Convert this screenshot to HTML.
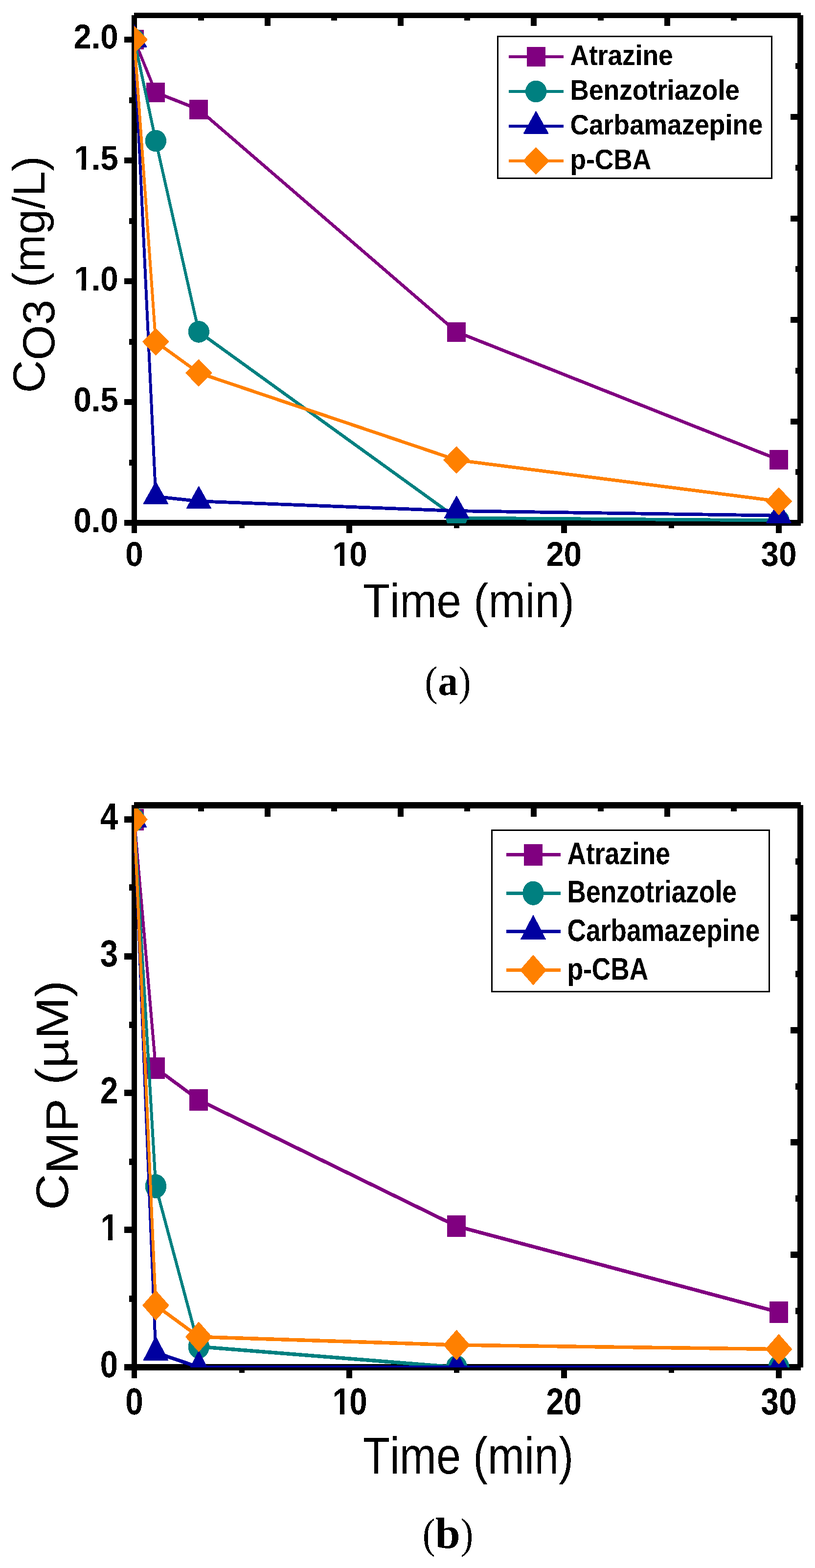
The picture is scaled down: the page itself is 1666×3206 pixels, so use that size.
<!DOCTYPE html>
<html lang="en">
<head>
<meta charset="utf-8">
<title>Ozone and micropollutant concentration versus time</title>
<style>
html,body{margin:0;padding:0;background:#fff;}
body{width:1666px;height:3206px;overflow:hidden;}
svg{display:block;}
text{fill:#000;font-kerning:none;font-variant-ligatures:none;text-rendering:geometricPrecision;}
</style>
</head>
<body>
<svg width="1666" height="3206" viewBox="0 0 1666 3206">
<defs>
<filter id="px" filterUnits="userSpaceOnUse" x="0" y="0" width="1666" height="3206" color-interpolation-filters="sRGB">
<feComponentTransfer><feFuncA type="discrete" tableValues="0 1"/></feComponentTransfer>
</filter>
</defs>
<rect width="1666" height="3206" fill="#fff"/>
<g shape-rendering="crispEdges">
<rect x="269.00" y="31.00" width="11.00" height="1059.00" fill="#000"/>
<rect x="254.00" y="1063.00" width="1383.00" height="12.00" fill="#000"/>
<rect x="264.00" y="939.50" width="6.00" height="12.00" fill="#000"/>
<rect x="254.00" y="816.00" width="16.00" height="12.00" fill="#000"/>
<rect x="264.00" y="692.50" width="6.00" height="12.00" fill="#000"/>
<rect x="254.00" y="569.00" width="16.00" height="12.00" fill="#000"/>
<rect x="264.00" y="445.50" width="6.00" height="12.00" fill="#000"/>
<rect x="254.00" y="322.00" width="16.00" height="12.00" fill="#000"/>
<rect x="264.00" y="198.50" width="6.00" height="12.00" fill="#000"/>
<rect x="254.00" y="75.00" width="16.00" height="12.00" fill="#000"/>
<rect x="489.00" y="1074.00" width="11.00" height="6.00" fill="#000"/>
<rect x="707.67" y="1074.00" width="12.00" height="16.00" fill="#000"/>
<rect x="928.00" y="1074.00" width="11.00" height="6.00" fill="#000"/>
<rect x="1146.84" y="1074.00" width="12.00" height="16.00" fill="#000"/>
<rect x="1367.00" y="1074.00" width="11.00" height="6.00" fill="#000"/>
<rect x="1586.01" y="1074.00" width="12.00" height="16.00" fill="#000"/>
</g>
<clipPath id="clipa"><rect x="274" y="31" width="1363" height="1039"/></clipPath>
<g clip-path="url(#clipa)" shape-rendering="crispEdges">
<g transform="scale(1 1.16)"><polyline points="274.50,69.828 318.40,163.017 406.30,192.845 933.30,585.000 1592.00,810.345" fill="none" stroke="#800080" stroke-width="5.9" stroke-linejoin="round" stroke-linecap="butt"/></g>
<rect x="255.50" y="61.00" width="38.00" height="40.00" fill="#800080"/>
<rect x="299.40" y="169.10" width="38.00" height="40.00" fill="#800080"/>
<rect x="387.30" y="203.70" width="38.00" height="40.00" fill="#800080"/>
<rect x="914.30" y="658.60" width="38.00" height="40.00" fill="#800080"/>
<rect x="1573.00" y="920.00" width="38.00" height="40.00" fill="#800080"/>
<g transform="scale(1 1.16)"><polyline points="274.50,69.828 318.40,248.276 406.30,584.828 933.30,912.931 1592.00,917.241" fill="none" stroke="#008080" stroke-width="5.9" stroke-linejoin="round" stroke-linecap="butt"/></g>
<ellipse cx="274.50" cy="81.00" rx="21.70" ry="22.30" fill="#008080"/>
<ellipse cx="318.40" cy="288.00" rx="21.70" ry="22.30" fill="#008080"/>
<ellipse cx="406.30" cy="678.40" rx="21.70" ry="22.30" fill="#008080"/>
<ellipse cx="933.30" cy="1059.00" rx="21.70" ry="22.30" fill="#008080"/>
<ellipse cx="1592.00" cy="1064.00" rx="21.70" ry="22.30" fill="#008080"/>
<g transform="scale(1 1.16)"><polyline points="274.50,69.828 318.40,875.259 406.30,883.448 933.30,900.517 1592.00,908.793" fill="none" stroke="#0000A0" stroke-width="5.9" stroke-linejoin="round" stroke-linecap="butt"/></g>
<path d="M274.50 51.40 L299.20 95.60 L249.80 95.60 Z" fill="#0000A0" stroke="#0000A0" stroke-width="2" stroke-linejoin="round"/>
<path d="M318.40 985.70 L343.10 1029.90 L293.70 1029.90 Z" fill="#0000A0" stroke="#0000A0" stroke-width="2" stroke-linejoin="round"/>
<path d="M406.30 995.20 L431.00 1039.40 L381.60 1039.40 Z" fill="#0000A0" stroke="#0000A0" stroke-width="2" stroke-linejoin="round"/>
<path d="M933.30 1015.00 L958.00 1059.20 L908.60 1059.20 Z" fill="#0000A0" stroke="#0000A0" stroke-width="2" stroke-linejoin="round"/>
<path d="M1592.00 1024.60 L1616.70 1068.80 L1567.30 1068.80 Z" fill="#0000A0" stroke="#0000A0" stroke-width="2" stroke-linejoin="round"/>
<g transform="scale(1 1.16)"><polyline points="274.50,69.828 318.40,602.414 406.30,657.328 933.30,810.776 1592.00,883.534" fill="none" stroke="#FF8000" stroke-width="5.9" stroke-linejoin="round" stroke-linecap="butt"/></g>
<path d="M274.50 54.20 L300.60 81.00 L274.50 107.80 L248.40 81.00 Z" fill="#FF8000" stroke="#FF8000" stroke-width="2" stroke-linejoin="round"/>
<path d="M318.40 672.00 L344.50 698.80 L318.40 725.60 L292.30 698.80 Z" fill="#FF8000" stroke="#FF8000" stroke-width="2" stroke-linejoin="round"/>
<path d="M406.30 735.70 L432.40 762.50 L406.30 789.30 L380.20 762.50 Z" fill="#FF8000" stroke="#FF8000" stroke-width="2" stroke-linejoin="round"/>
<path d="M933.30 913.70 L959.40 940.50 L933.30 967.30 L907.20 940.50 Z" fill="#FF8000" stroke="#FF8000" stroke-width="2" stroke-linejoin="round"/>
<path d="M1592.00 998.10 L1618.10 1024.90 L1592.00 1051.70 L1565.90 1024.90 Z" fill="#FF8000" stroke="#FF8000" stroke-width="2" stroke-linejoin="round"/>
</g>
<g shape-rendering="crispEdges">
<rect x="1630.00" y="31.00" width="12.00" height="1039.00" fill="#000"/>
<rect x="274.00" y="26.00" width="1363.00" height="11.00" fill="#000"/>
<rect x="404.65" y="36.00" width="12.00" height="6.00" fill="#000"/>
<rect x="540.80" y="36.00" width="12.00" height="17.00" fill="#000"/>
<rect x="676.95" y="36.00" width="12.00" height="6.00" fill="#000"/>
<rect x="813.10" y="36.00" width="12.00" height="17.00" fill="#000"/>
<rect x="949.25" y="36.00" width="12.00" height="6.00" fill="#000"/>
<rect x="1085.40" y="36.00" width="12.00" height="17.00" fill="#000"/>
<rect x="1221.55" y="36.00" width="12.00" height="6.00" fill="#000"/>
<rect x="1357.70" y="36.00" width="12.00" height="17.00" fill="#000"/>
<rect x="1493.85" y="36.00" width="12.00" height="6.00" fill="#000"/>
<rect x="1626.00" y="129.25" width="5.00" height="12.00" fill="#000"/>
<rect x="1616.00" y="233.00" width="15.00" height="12.00" fill="#000"/>
<rect x="1626.00" y="336.75" width="5.00" height="12.00" fill="#000"/>
<rect x="1616.00" y="440.50" width="15.00" height="12.00" fill="#000"/>
<rect x="1626.00" y="544.25" width="5.00" height="12.00" fill="#000"/>
<rect x="1616.00" y="648.00" width="15.00" height="12.00" fill="#000"/>
<rect x="1626.00" y="751.75" width="5.00" height="12.00" fill="#000"/>
<rect x="1616.00" y="855.50" width="15.00" height="12.00" fill="#000"/>
<rect x="1626.00" y="959.25" width="5.00" height="12.00" fill="#000"/>
</g>
<g shape-rendering="crispEdges">
<rect x="1017.50" y="74.50" width="560.00" height="290.00" fill="#fff" stroke="#000" stroke-width="3"/>
<rect x="1040.00" y="113.00" width="112.40" height="6.00" fill="#800080"/>
<rect x="1076.70" y="96.00" width="38.00" height="40.00" fill="#800080"/>
<rect x="1040.00" y="184.00" width="112.40" height="6.00" fill="#008080"/>
<ellipse cx="1095.70" cy="187.00" rx="21.70" ry="22.30" fill="#008080"/>
<rect x="1040.00" y="255.00" width="112.40" height="6.00" fill="#0000A0"/>
<path d="M1095.70 228.40 L1120.40 272.60 L1071.00 272.60 Z" fill="#0000A0" stroke="#0000A0" stroke-width="2" stroke-linejoin="round"/>
<rect x="1040.00" y="326.00" width="112.40" height="6.00" fill="#FF8000"/>
<path d="M1095.70 302.20 L1121.80 329.00 L1095.70 355.80 L1069.60 329.00 Z" fill="#FF8000" stroke="#FF8000" stroke-width="2" stroke-linejoin="round"/>
</g>
<g filter="url(#px)">
<text transform="translate(1165.50 133.20) scale(0.9158 1.0000)" font-family='"Liberation Sans", Arial, sans-serif' font-weight="bold" font-size="58.20" text-anchor="start">Atrazine</text>
<text transform="translate(1165.50 204.20) scale(0.9158 1.0000)" font-family='"Liberation Sans", Arial, sans-serif' font-weight="bold" font-size="58.20" text-anchor="start">Benzotriazole</text>
<text transform="translate(1165.50 275.20) scale(0.9158 1.0000)" font-family='"Liberation Sans", Arial, sans-serif' font-weight="bold" font-size="58.20" text-anchor="start">Carbamazepine</text>
<text transform="translate(1165.50 346.20) scale(0.9158 1.0000)" font-family='"Liberation Sans", Arial, sans-serif' font-weight="bold" font-size="58.20" text-anchor="start">p-CBA</text>
<text transform="translate(241.60 98.80) scale(0.9304 1.0000)" font-family='"Liberation Sans", Arial, sans-serif' font-weight="bold" font-size="70.40" text-anchor="end">2.0</text>
<text transform="translate(150.54 346.60) scale(0.9304 1.0000)" font-family='"Liberation Sans", Arial, sans-serif' font-weight="bold" font-size="70.40" text-anchor="start"><tspan x="1.07">1</tspan><tspan x="39.16">.5</tspan></text>
<g fill="#fff"><rect x="154.16" y="338.29" width="12.48" height="9.36" fill="#fff"/><rect x="175.90" y="338.29" width="11.33" height="9.36" fill="#fff"/></g>
<text transform="translate(150.54 593.60) scale(0.9304 1.0000)" font-family='"Liberation Sans", Arial, sans-serif' font-weight="bold" font-size="70.40" text-anchor="start"><tspan x="1.07">1</tspan><tspan x="39.16">.0</tspan></text>
<g fill="#fff"><rect x="154.16" y="585.29" width="12.48" height="9.36" fill="#fff"/><rect x="175.90" y="585.29" width="11.33" height="9.36" fill="#fff"/></g>
<text transform="translate(241.60 840.60) scale(0.9304 1.0000)" font-family='"Liberation Sans", Arial, sans-serif' font-weight="bold" font-size="70.40" text-anchor="end">0.5</text>
<text transform="translate(241.60 1087.60) scale(0.9304 1.0000)" font-family='"Liberation Sans", Arial, sans-serif' font-weight="bold" font-size="70.40" text-anchor="end">0.0</text>
<text transform="translate(274.50 1157.20) scale(0.9304 1.0000)" font-family='"Liberation Sans", Arial, sans-serif' font-weight="bold" font-size="70.40" text-anchor="middle">0</text>
<text transform="translate(677.77 1157.20) scale(0.9304 1.0000)" font-family='"Liberation Sans", Arial, sans-serif' font-weight="bold" font-size="70.40" text-anchor="start"><tspan x="2.15">1</tspan><tspan x="39.16">0</tspan></text>
<g fill="#fff"><rect x="682.39" y="1148.89" width="12.48" height="9.36" fill="#fff"/><rect x="704.13" y="1148.89" width="11.33" height="9.36" fill="#fff"/></g>
<text transform="translate(1152.80 1157.20) scale(0.9304 1.0000)" font-family='"Liberation Sans", Arial, sans-serif' font-weight="bold" font-size="70.40" text-anchor="middle">20</text>
<text transform="translate(1592.00 1157.20) scale(0.9304 1.0000)" font-family='"Liberation Sans", Arial, sans-serif' font-weight="bold" font-size="70.40" text-anchor="middle">30</text>
<text transform="translate(741.74 1262.09) scale(0.9279 1.0000)" font-family='"Liberation Sans", Arial, sans-serif' font-weight="normal" font-size="97.57" text-anchor="start">Time (min)</text>
<text transform="translate(91.20 803.60) rotate(-90) scale(1.0109 1.0000)" font-family='"Liberation Sans", Arial, sans-serif' font-weight="normal" font-size="92.00" text-anchor="start" xml:space="preserve">C</text>
<text transform="translate(110.60 736.84) rotate(-90) scale(1.0109 1.0000)" font-family='"Liberation Sans", Arial, sans-serif' font-weight="normal" font-size="92.00" text-anchor="start" xml:space="preserve">O3</text>
<text transform="translate(91.20 613.47) rotate(-90) scale(1.0109 1.0000)" font-family='"Liberation Sans", Arial, sans-serif' font-weight="normal" font-size="92.00" text-anchor="start" xml:space="preserve"> (mg/L)</text>
<text transform="translate(868.15 1421.64) scale(0.9166 1.0000)" font-family='"Liberation Serif", "Times New Roman", serif' font-weight="normal" font-size="86.00" text-anchor="start">(</text>
<text transform="translate(895.54 1421.44) scale(0.9551 1.0000)" font-family='"Liberation Serif", "Times New Roman", serif' font-weight="bold" font-size="85.83" text-anchor="start">a</text>
<text transform="translate(937.23 1421.64) scale(0.8810 1.0000)" font-family='"Liberation Serif", "Times New Roman", serif' font-weight="normal" font-size="86.00" text-anchor="start">)</text>
</g>
<g shape-rendering="crispEdges">
<rect x="269.00" y="1646.00" width="11.00" height="1172.00" fill="#000"/>
<rect x="254.00" y="2789.00" width="1383.00" height="13.00" fill="#000"/>
<rect x="264.00" y="2649.00" width="6.00" height="13.00" fill="#000"/>
<rect x="254.00" y="2508.00" width="16.00" height="13.00" fill="#000"/>
<rect x="264.00" y="2369.00" width="6.00" height="13.00" fill="#000"/>
<rect x="254.00" y="2228.00" width="16.00" height="13.00" fill="#000"/>
<rect x="264.00" y="2088.50" width="6.00" height="13.00" fill="#000"/>
<rect x="254.00" y="1949.00" width="16.00" height="13.00" fill="#000"/>
<rect x="264.00" y="1808.00" width="6.00" height="13.00" fill="#000"/>
<rect x="254.00" y="1669.00" width="16.00" height="13.00" fill="#000"/>
<rect x="489.00" y="2801.00" width="11.00" height="6.00" fill="#000"/>
<rect x="707.67" y="2801.00" width="12.00" height="17.00" fill="#000"/>
<rect x="928.00" y="2801.00" width="11.00" height="6.00" fill="#000"/>
<rect x="1146.84" y="2801.00" width="12.00" height="17.00" fill="#000"/>
<rect x="1367.00" y="2801.00" width="11.00" height="6.00" fill="#000"/>
<rect x="1586.01" y="2801.00" width="12.00" height="17.00" fill="#000"/>
</g>
<clipPath id="clipb"><rect x="274" y="1646" width="1363" height="1150"/></clipPath>
<g clip-path="url(#clipb)" shape-rendering="crispEdges">
<g transform="scale(1 1.25)"><polyline points="274.50,1340.400 318.40,1747.200 406.30,1799.200 933.30,2005.680 1592.00,2146.400" fill="none" stroke="#800080" stroke-width="6.0" stroke-linejoin="round" stroke-linecap="butt"/></g>
<rect x="255.50" y="1653.50" width="38.00" height="44.00" fill="#800080"/>
<rect x="299.40" y="2162.00" width="38.00" height="44.00" fill="#800080"/>
<rect x="387.30" y="2227.00" width="38.00" height="44.00" fill="#800080"/>
<rect x="914.30" y="2485.10" width="38.00" height="44.00" fill="#800080"/>
<rect x="1573.00" y="2661.00" width="38.00" height="44.00" fill="#800080"/>
<g transform="scale(1 1.25)"><polyline points="274.50,1340.400 318.40,1940.320 406.30,2202.720 933.30,2236.400 1592.00,2236.400" fill="none" stroke="#008080" stroke-width="6.0" stroke-linejoin="round" stroke-linecap="butt"/></g>
<ellipse cx="274.50" cy="1675.50" rx="21.70" ry="24.60" fill="#008080"/>
<ellipse cx="318.40" cy="2425.40" rx="21.70" ry="24.60" fill="#008080"/>
<ellipse cx="406.30" cy="2753.40" rx="21.70" ry="24.60" fill="#008080"/>
<ellipse cx="933.30" cy="2795.50" rx="21.70" ry="24.60" fill="#008080"/>
<ellipse cx="1592.00" cy="2795.50" rx="21.70" ry="24.60" fill="#008080"/>
<g transform="scale(1 1.25)"><polyline points="274.50,1340.400 318.40,2212.400 406.30,2236.400 933.30,2236.400 1592.00,2236.400" fill="none" stroke="#0000A0" stroke-width="6.0" stroke-linejoin="round" stroke-linecap="butt"/></g>
<path d="M274.50 1643.20 L299.20 1691.20 L249.80 1691.20 Z" fill="#0000A0" stroke="#0000A0" stroke-width="2" stroke-linejoin="round"/>
<path d="M318.40 2733.20 L343.10 2781.20 L293.70 2781.20 Z" fill="#0000A0" stroke="#0000A0" stroke-width="2" stroke-linejoin="round"/>
<path d="M406.30 2763.20 L431.00 2811.20 L381.60 2811.20 Z" fill="#0000A0" stroke="#0000A0" stroke-width="2" stroke-linejoin="round"/>
<path d="M933.30 2763.20 L958.00 2811.20 L908.60 2811.20 Z" fill="#0000A0" stroke="#0000A0" stroke-width="2" stroke-linejoin="round"/>
<path d="M1592.00 2763.20 L1616.70 2811.20 L1567.30 2811.20 Z" fill="#0000A0" stroke="#0000A0" stroke-width="2" stroke-linejoin="round"/>
<g transform="scale(1 1.25)"><polyline points="274.50,1340.400 318.40,2135.120 406.30,2186.720 933.30,2200.080 1592.00,2206.880" fill="none" stroke="#FF8000" stroke-width="6.0" stroke-linejoin="round" stroke-linecap="butt"/></g>
<path d="M274.50 1645.90 L300.60 1675.50 L274.50 1705.10 L248.40 1675.50 Z" fill="#FF8000" stroke="#FF8000" stroke-width="2" stroke-linejoin="round"/>
<path d="M318.40 2639.30 L344.50 2668.90 L318.40 2698.50 L292.30 2668.90 Z" fill="#FF8000" stroke="#FF8000" stroke-width="2" stroke-linejoin="round"/>
<path d="M406.30 2703.80 L432.40 2733.40 L406.30 2763.00 L380.20 2733.40 Z" fill="#FF8000" stroke="#FF8000" stroke-width="2" stroke-linejoin="round"/>
<path d="M933.30 2720.50 L959.40 2750.10 L933.30 2779.70 L907.20 2750.10 Z" fill="#FF8000" stroke="#FF8000" stroke-width="2" stroke-linejoin="round"/>
<path d="M1592.00 2729.00 L1618.10 2758.60 L1592.00 2788.20 L1565.90 2758.60 Z" fill="#FF8000" stroke="#FF8000" stroke-width="2" stroke-linejoin="round"/>
</g>
<g shape-rendering="crispEdges">
<rect x="1630.00" y="1646.00" width="12.00" height="1150.00" fill="#000"/>
<rect x="274.00" y="1640.00" width="1363.00" height="13.00" fill="#000"/>
<rect x="404.65" y="1652.00" width="12.00" height="7.00" fill="#000"/>
<rect x="540.80" y="1652.00" width="12.00" height="18.00" fill="#000"/>
<rect x="676.95" y="1652.00" width="12.00" height="7.00" fill="#000"/>
<rect x="813.10" y="1652.00" width="12.00" height="18.00" fill="#000"/>
<rect x="949.25" y="1652.00" width="12.00" height="7.00" fill="#000"/>
<rect x="1085.40" y="1652.00" width="12.00" height="18.00" fill="#000"/>
<rect x="1221.55" y="1652.00" width="12.00" height="7.00" fill="#000"/>
<rect x="1357.70" y="1652.00" width="12.00" height="18.00" fill="#000"/>
<rect x="1493.85" y="1652.00" width="12.00" height="7.00" fill="#000"/>
<rect x="1626.00" y="1754.90" width="5.00" height="13.00" fill="#000"/>
<rect x="1616.00" y="1869.80" width="15.00" height="13.00" fill="#000"/>
<rect x="1626.00" y="1984.70" width="5.00" height="13.00" fill="#000"/>
<rect x="1616.00" y="2099.60" width="15.00" height="13.00" fill="#000"/>
<rect x="1626.00" y="2214.50" width="5.00" height="13.00" fill="#000"/>
<rect x="1616.00" y="2329.40" width="15.00" height="13.00" fill="#000"/>
<rect x="1626.00" y="2444.30" width="5.00" height="13.00" fill="#000"/>
<rect x="1616.00" y="2559.20" width="15.00" height="13.00" fill="#000"/>
<rect x="1626.00" y="2674.10" width="5.00" height="13.00" fill="#000"/>
</g>
<g shape-rendering="crispEdges">
<rect x="1005.50" y="1697.50" width="567.00" height="330.00" fill="#fff" stroke="#000" stroke-width="3"/>
<rect x="1034.80" y="1743.90" width="111.40" height="7.40" fill="#800080"/>
<rect x="1071.00" y="1725.60" width="38.00" height="44.00" fill="#800080"/>
<rect x="1034.80" y="1822.50" width="111.40" height="7.40" fill="#008080"/>
<ellipse cx="1090.00" cy="1826.20" rx="21.70" ry="24.60" fill="#008080"/>
<rect x="1034.80" y="1900.70" width="111.40" height="7.40" fill="#0000A0"/>
<path d="M1090.00 1872.10 L1114.70 1920.10 L1065.30 1920.10 Z" fill="#0000A0" stroke="#0000A0" stroke-width="2" stroke-linejoin="round"/>
<rect x="1034.80" y="1979.70" width="111.40" height="7.40" fill="#FF8000"/>
<path d="M1090.00 1953.80 L1116.10 1983.40 L1090.00 2013.00 L1063.90 1983.40 Z" fill="#FF8000" stroke="#FF8000" stroke-width="2" stroke-linejoin="round"/>
</g>
<g filter="url(#px)">
<text transform="translate(1159.50 1766.80) scale(0.8381 1.0000)" font-family='"Liberation Sans", Arial, sans-serif' font-weight="bold" font-size="63.60" text-anchor="start">Atrazine</text>
<text transform="translate(1159.50 1845.40) scale(0.8381 1.0000)" font-family='"Liberation Sans", Arial, sans-serif' font-weight="bold" font-size="63.60" text-anchor="start">Benzotriazole</text>
<text transform="translate(1159.50 1923.60) scale(0.8381 1.0000)" font-family='"Liberation Sans", Arial, sans-serif' font-weight="bold" font-size="63.60" text-anchor="start">Carbamazepine</text>
<text transform="translate(1159.50 2002.60) scale(0.8381 1.0000)" font-family='"Liberation Sans", Arial, sans-serif' font-weight="bold" font-size="63.60" text-anchor="start">p-CBA</text>
<text transform="translate(241.20 1695.90) scale(0.8506 1.0000)" font-family='"Liberation Sans", Arial, sans-serif' font-weight="bold" font-size="77.00" text-anchor="end">4</text>
<text transform="translate(241.20 1975.90) scale(0.8506 1.0000)" font-family='"Liberation Sans", Arial, sans-serif' font-weight="bold" font-size="77.00" text-anchor="end">3</text>
<text transform="translate(241.20 2255.90) scale(0.8506 1.0000)" font-family='"Liberation Sans", Arial, sans-serif' font-weight="bold" font-size="77.00" text-anchor="end">2</text>
<text transform="translate(204.77 2535.90) scale(0.8506 1.0000)" font-family='"Liberation Sans", Arial, sans-serif' font-weight="bold" font-size="77.00" text-anchor="start"><tspan x="1.18">1</tspan></text>
<g fill="#fff"><rect x="208.39" y="2526.81" width="12.48" height="10.24" fill="#fff"/><rect x="230.13" y="2526.81" width="11.33" height="10.24" fill="#fff"/></g>
<text transform="translate(241.20 2815.90) scale(0.8506 1.0000)" font-family='"Liberation Sans", Arial, sans-serif' font-weight="bold" font-size="77.00" text-anchor="end">0</text>
<text transform="translate(274.50 2892.00) scale(0.8506 1.0000)" font-family='"Liberation Sans", Arial, sans-serif' font-weight="bold" font-size="77.00" text-anchor="middle">0</text>
<text transform="translate(677.77 2892.00) scale(0.8506 1.0000)" font-family='"Liberation Sans", Arial, sans-serif' font-weight="bold" font-size="77.00" text-anchor="start"><tspan x="2.35">1</tspan><tspan x="42.83">0</tspan></text>
<g fill="#fff"><rect x="682.39" y="2882.91" width="12.48" height="10.24" fill="#fff"/><rect x="704.13" y="2882.91" width="11.33" height="10.24" fill="#fff"/></g>
<text transform="translate(1152.80 2892.00) scale(0.8506 1.0000)" font-family='"Liberation Sans", Arial, sans-serif' font-weight="bold" font-size="77.00" text-anchor="middle">20</text>
<text transform="translate(1592.00 2892.00) scale(0.8506 1.0000)" font-family='"Liberation Sans", Arial, sans-serif' font-weight="bold" font-size="77.00" text-anchor="middle">30</text>
<text transform="translate(741.75 3013.01) scale(0.8490 1.0000)" font-family='"Liberation Sans", Arial, sans-serif' font-weight="normal" font-size="106.18" text-anchor="start">Time (min)</text>
<text transform="translate(139.00 2474.25) rotate(-90) scale(1.1052 1.0000)" font-family='"Liberation Sans", Arial, sans-serif' font-weight="normal" font-size="93.20" text-anchor="start" xml:space="preserve">C</text>
<text transform="translate(159.20 2400.26) rotate(-90) scale(1.1052 1.0000)" font-family='"Liberation Sans", Arial, sans-serif' font-weight="normal" font-size="93.20" text-anchor="start" xml:space="preserve">MP</text>
<text transform="translate(139.00 2246.86) rotate(-90) scale(1.1052 1.0000)" font-family='"Liberation Sans", Arial, sans-serif' font-weight="normal" font-size="93.20" text-anchor="start" xml:space="preserve"> (µM)</text>
<text transform="translate(863.65 3164.88) scale(0.9037 1.0000)" font-family='"Liberation Serif", "Times New Roman", serif' font-weight="normal" font-size="87.22" text-anchor="start">(</text>
<text transform="translate(889.62 3164.81) scale(1.0350 1.0000)" font-family='"Liberation Serif", "Times New Roman", serif' font-weight="bold" font-size="89.08" text-anchor="start">b</text>
<text transform="translate(942.03 3164.88) scale(0.8687 1.0000)" font-family='"Liberation Serif", "Times New Roman", serif' font-weight="normal" font-size="87.22" text-anchor="start">)</text>
</g>
</svg>
</body>
</html>
